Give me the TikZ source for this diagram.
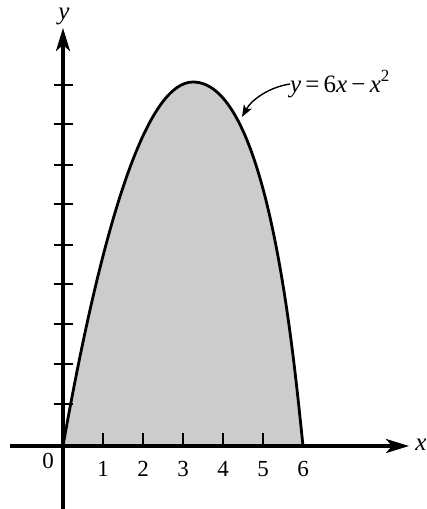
\documentclass[tikz,border=0pt]{standalone}
\usepackage{fontspec}
\setmainfont{Liberation Serif}
\usetikzlibrary{arrows.meta}
\begin{document}
\begin{tikzpicture}[x=1pt,y=-1pt,
  axisline/.style={line width=3.4pt,-{Stealth[length=23pt,width=14pt,inset=6pt]}},
  tickmark/.style={line width=1.6pt},
  curvepath/.style={line width=2.8pt,line join=round},
  regionfill/.style={fill=black!20},
  numlbl/.style={font=\fontsize{23}{23}\selectfont,inner sep=0pt},
  varlbl/.style={font=\fontsize{25}{25}\selectfont\itshape,inner sep=0pt},
  eqlbl/.style={font=\fontsize{25}{25}\selectfont,inner sep=0pt,anchor=west},
  pointer/.style={line width=1.4pt,-{Stealth[length=12pt,width=9pt,inset=3pt]}}
]
\useasboundingbox (0,0) rectangle (427,509);
% curve points
\coordinate (o) at (63,446);
\coordinate (peak) at (193,82);
\coordinate (six) at (303,446);
% shaded region
\fill[regionfill] (o) .. controls (106,203) and (150,82) .. (peak)
  .. controls (268,82) and (293,350) .. (six) -- cycle;
% axes
\coordinate (xs) at (10,446);
\coordinate (xe) at (409,446);
\coordinate (ys) at (63,509);
\coordinate (ye) at (63,28);
\draw[axisline] (xs) -- (xe);
\draw[axisline] (ys) -- (ye);
% curve
\draw[curvepath] (o) .. controls (106,203) and (150,82) .. (peak)
  .. controls (268,82) and (293,350) .. (six);
% x ticks
\foreach \i in {1,...,5} {
  \draw[tickmark] ({63+40*\i},446) -- ({63+40*\i},433);
}
% y ticks
\foreach \yy in {404,364,324,284,245,204,165,124,85} {
  \draw[tickmark] (54,\yy) -- (73,\yy);
}
% labels
\node[varlbl] (lx) at (421,445) {x};
\node[varlbl] (ly) at (64,16) {y};
\node[numlbl] (l0) at (48,461) {0};
\foreach \i in {1,...,6} {
  \node[numlbl] (n\i) at ({63+40*\i},469) {\i};
}
\node[eqlbl] (eq) at (290,84) {\itshape y\,\upshape=\,6\itshape x\,\upshape−\,\itshape x\upshape\raisebox{0.42em}{\fontsize{17}{17}\selectfont 2}};
\coordinate (tip) at (242,117);
\draw[pointer] (eq.west) .. controls (270,87) and (252,99) .. (tip);
\end{tikzpicture}
\end{document}
